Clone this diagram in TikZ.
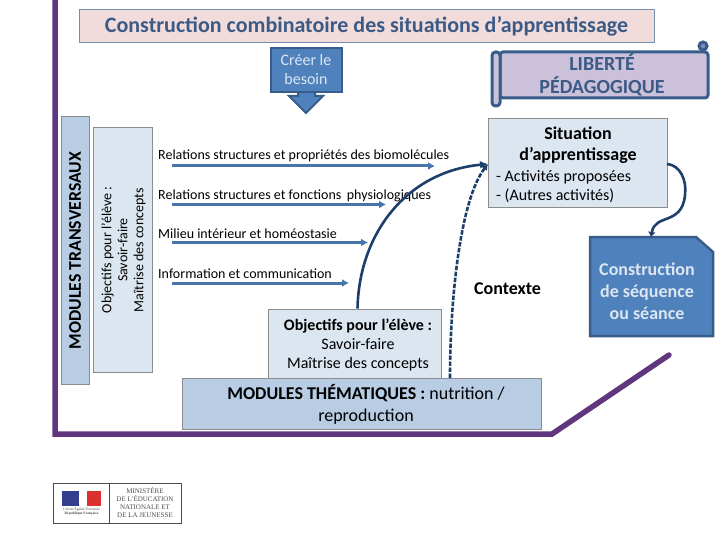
\documentclass[tikz,border=0pt]{standalone}
\usepackage{xcolor}
\usepackage{fontspec}
\setmainfont{Carlito}
\newfontfamily\logofont{Liberation Serif}
\usepackage{tikz}
\usetikzlibrary{positioning,shapes,arrows,arrows.meta,calc}
\definecolor{purpleline}{HTML}{60367F}
\definecolor{titlefill}{HTML}{F2DCDB}
\definecolor{titletext}{HTML}{3B5A85}
\definecolor{palefill}{HTML}{DCE6F1}
\definecolor{midfill}{HTML}{B8CCE4}
\definecolor{bluefill}{HTML}{4F81BD}
\definecolor{blueedge}{HTML}{385D8A}
\definecolor{scrollfill}{HTML}{CCC1DA}
\definecolor{darklink}{HTML}{1F3F6B}
\definecolor{greyedge}{HTML}{8C8C8C}
\definecolor{flagblue}{HTML}{34408E}
\definecolor{flagred}{HTML}{DC2F2F}
\tikzset{
    panel/.style={rectangle, draw=greyedge, line width=1pt, inner sep=0pt, align=center, text=black},
    paneltext/.style={inner sep=0pt, align=center, text=black},
    topic/.style={anchor=west, inner sep=0pt, font=\fontsize{14}{16}\selectfont, text=black},
    topicarrow/.style={-{Latex[length=7pt,width=8pt]}, line width=3pt, color=bluefill!90!black},
    link/.style={line width=2.6pt, color=darklink},
    borderline/.style={line width=5.5pt, color=purpleline, line join=miter, line cap=round},
    logotext/.style={inner sep=0pt, align=center, text=black!70, font=\logofont\fontsize{7}{8}\selectfont}
}
\begin{document}
\begin{tikzpicture}[x=1pt, y=-1pt]
\useasboundingbox (0,0) rectangle (720,540);

% outer frame
\coordinate (frametop) at (55,-5);
\coordinate (framecorner) at (55,434);
\coordinate (framebase) at (552,434);
\coordinate (frameend) at (669,355);
\draw[borderline] (frametop) -- (framecorner) -- (framebase) -- (frameend);

\node[panel, draw=blueedge!70, fill=titlefill, minimum width=575pt, minimum height=33pt,
    font=\fontsize{22}{24}\selectfont\bfseries, text=titletext] (title) at (366.5,26.5) {Construction combinatoire des situations d’apprentissage};

% creer le besoin
\draw[line width=2pt, draw=blueedge, fill=bluefill] (298,91) -- (298,96) -- (289,96) -- (306,113) -- (323,96) -- (315,96) -- (315,91) -- cycle;
\node[rectangle, draw=blueedge, line width=2pt, fill=bluefill, minimum width=71pt, minimum height=44pt, inner sep=0pt, align=center,
    text=palefill, font=\fontsize{16}{19}\selectfont] (besoin) at (306,70) {Créer le\\besoin};

% liberte pedagogique
\draw[line width=3pt, draw=blueedge, fill=scrollfill, rounded corners=3pt] (500,52) rectangle (708,98);
\draw[line width=3pt, draw=blueedge, fill=scrollfill!50!blueedge] (703,46) circle[radius=4pt];
\draw[line width=3pt, draw=blueedge, fill=scrollfill, rounded corners=3.5pt] (492,52) rectangle (500,106);
\node[paneltext, text=titletext, font=\fontsize{20}{23}\selectfont\bfseries] (liberte) at (602,75) {LIBERTÉ\\PÉDAGOGIQUE};

% colonnes transversales
\node[panel, fill=midfill, minimum width=28pt, minimum height=267pt] (transversaux) at (75,250.5) {};
\node[paneltext, rotate=90, font=\fontsize{17.8}{20}\selectfont\bfseries] (transversauxtext) at (transversaux.center) {MODULES TRANSVERSAUX};
\node[panel, fill=palefill, minimum width=59pt, minimum height=244pt] (objectifsv) at (122.5,250) {};
\node[paneltext, rotate=90, font=\fontsize{14}{16}\selectfont] (objectifsvtext) at (123.5,250) {Objectifs pour l’élève :\\Savoir-faire\\Maîtrise des concepts};

% contenus
\node[topic] (topica) at (158,156) {Relations structures et propriétés des biomolécules};
\node[topic] (topicb) at (158,196) {Relations structures et fonctions\, physiologiques};
\node[topic] (topicc) at (158,234) {Milieu intérieur et homéostasie};
\node[topic] (topicd) at (158,274) {Information et communication};
\coordinate (startA) at (172,166);
\coordinate (endA) at (435,166);
\coordinate (startB) at (172,204.5);
\coordinate (endB) at (386,204.5);
\coordinate (startC) at (172,242.5);
\coordinate (endC) at (368,242.5);
\coordinate (startD) at (172,283);
\coordinate (endD) at (349,283);
\draw[topicarrow] (startA) -- (endA);
\draw[topicarrow] (startB) -- (endB);
\draw[topicarrow] (startC) -- (endC);
\draw[topicarrow] (startD) -- (endD);

% situation
\node[panel, fill=palefill, minimum width=179pt, minimum height=89pt] (situation) at (577.5,163.5) {};
\node[paneltext, font=\fontsize{18}{21}\selectfont\bfseries] (situationtitle) at (578,145) {Situation\\d’apprentissage};
\node[paneltext, anchor=west, align=left, font=\fontsize{16}{19}\selectfont] (situationtext) at (496,186.5) {- Activités proposées\\- (Autres activités)};

% construction
\draw[line width=2.5pt, draw=blueedge, fill=bluefill] (590,237) -- (696,237) -- (713,252) -- (713,336) -- (590,336) -- cycle;
\node[paneltext, text=palefill, font=\fontsize{18}{22}\selectfont\bfseries] (sequence) at (647,291) {Construction\\de séquence\\ou séance};

\node[paneltext, font=\fontsize{18}{20}\selectfont\bfseries] (contexte) at (507.5,288.5) {Contexte};

% modules thematiques
\node[panel, fill=palefill, minimum width=173pt, minimum height=69pt] (objectifsh) at (354.5,343.5) {};
\node[paneltext, font=\fontsize{16}{19}\selectfont] (objectifshtext) at (358,344.5) {\textbf{Objectifs pour l’élève :}\\Savoir-faire\\Maîtrise des concepts};
\node[panel, fill=midfill, minimum width=359pt, minimum height=51pt] (thematiques) at (361.5,403.5) {};
\node[paneltext, font=\fontsize{18}{22}\selectfont] (thematiquestext) at (366,404) {\textbf{MODULES THÉMATIQUES :} nutrition /\\reproduction};

% liens
\coordinate (situationin) at (488,164);
\coordinate (situationout) at (667,164);
\coordinate (sequencein) at (651,237);
\coordinate (contextestart) at (450,378);
\draw[link, -{Latex[length=8pt,width=8pt]}] (objectifsh.north) ++(3,0) .. controls (359,235) and (405,172) .. (situationin);
\draw[link, dash pattern=on 4.5pt off 1.5pt, -{Latex[length=6pt,width=7pt]}] (contextestart) .. controls (450,300) and (460,200) .. (situationin);
\draw[link, -{Latex[length=5pt,width=8pt]}] (situationout) .. controls (680,165) and (687,180) .. (685,195) .. controls (682,226) and (655,213) .. (sequencein);

% logo
\node[rectangle, draw=black!70, line width=1pt, minimum width=128pt, minimum height=40pt] (logo) at (117,503) {};
\coordinate (logotop) at (109,483);
\coordinate (logobottom) at (109,523);
\draw[black!70, line width=1pt] (logotop) -- (logobottom);
\fill[flagblue] (62,491) rectangle (79,506);
\fill[flagred] (87,491) rectangle (101,506);
\node[logotext, font=\logofont\fontsize{3.6}{4.5}\selectfont] (republique) at (81.5,511.5) {Liberté Égalité Fraternité\\\textbf{République Française}};
\node[logotext] (ministere) at (145,503) {MINISTÈRE\\DE L’ÉDUCATION\\NATIONALE ET\\DE LA JEUNESSE};

\end{tikzpicture}
\end{document}
